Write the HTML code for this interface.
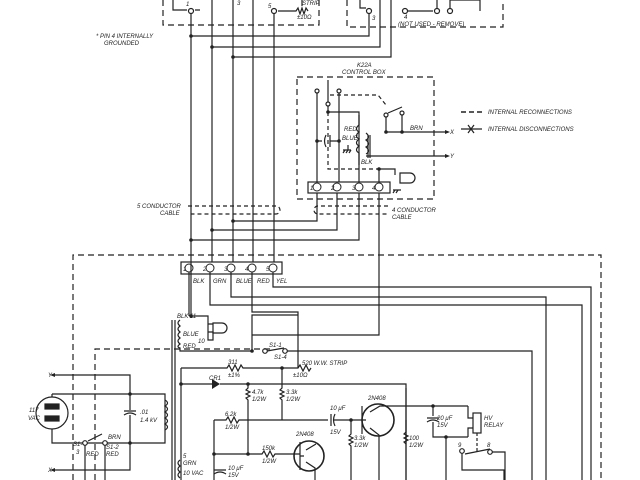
<!DOCTYPE html>
<html><head><meta charset="utf-8"><style>
html,body{margin:0;padding:0;background:#fff;}
svg{display:block;}
text{font-family:"Liberation Sans",sans-serif;font-size:6px;font-style:italic;fill:#222;}
</style></head><body>
<svg width="640" height="480" viewBox="0 0 640 480" xmlns="http://www.w3.org/2000/svg">
<g fill="none" stroke="#222" stroke-width="1.2">
<path d="M163 0V25H319V0" stroke-dasharray="6,4"/>
<path d="M347 0V27H503V0" stroke-dasharray="6,4"/>
<path d="M173 0V10H187M195 10H200"/>
<circle cx="191" cy="11" r="2.5"/><circle cx="274" cy="11" r="2.5"/>
<path d="M278 11H296l2-3 2 6 2-6 2 6 2-6 2 3M302 0V6"/>
<path d="M360 0V8H366"/><circle cx="369" cy="11" r="2.5"/>
<circle cx="405" cy="11" r="2.5"/><circle cx="437" cy="11" r="2.5"/><circle cx="450" cy="11" r="2.5"/>
<path d="M437 8V0M450 8V0H480V11M408 11H433"/>
<path d="M191 14V316M212 0V262M233 0V262M253 0V262M274 14V262"/>
<path d="M191 36H369V14M212 47H380V0M233 57H391V0"/>
<path d="M297 77H434V199H297Z" stroke-dasharray="6,4"/>
<rect x="308" y="182" width="82" height="11"/>
<path d="M317 93V182M339 93V182M359 115V182M379 169V182"/>
<circle cx="317" cy="91" r="2"/><circle cx="339" cy="91" r="2"/><circle cx="328" cy="104" r="2"/>
<path d="M328 80V102M328 106V112H359V125"/>
<path d="M330 95H378l8 10" stroke-dasharray="4,3"/>
<path d="M328 112V169H379" stroke-dasharray="4,3"/>
<path d="M379 169H395V175"/>
<circle cx="386" cy="115" r="2"/><circle cx="402" cy="113" r="2"/>
<path d="M386 117V132H445M402 115V132M388 113l14-6"/>
<path d="M368 135V158M370 135V158"/>
<path d="M366 133q5 4 0 7q5 4 0 7q5 4 0 7M359 125q-5 4 0 7q-5 4 0 7q-5 4 0 7q-5 4 0 7V165"/>
<path d="M366 156H445M317 141H322M326 135q-3 6 0 12M330 135V147M330 141H339"/>
<path d="M348 145V150M343 150h8M343 153l2-3M346 153l2-3M349 153l2-3"/>
<path d="M400 173h10a5 5 0 0 1 0 10h-10Z"/>
<path d="M393 190h8M393 193l2-3M396 193l2-3"/>
<g stroke-width="1">
<circle cx="317" cy="187" r="4"/><circle cx="337" cy="187" r="4"/><circle cx="359" cy="187" r="4"/><circle cx="379" cy="187" r="4"/>
<circle cx="189" cy="268" r="4"/><circle cx="210" cy="268" r="4"/><circle cx="231" cy="268" r="4"/><circle cx="252" cy="268" r="4"/><circle cx="273" cy="268" r="4"/>
</g>
<path d="M188 206H276a4 4 0 0 1 0 8H188" stroke-dasharray="4,3"/>
<path d="M388 206H318a4 4 0 0 0 0 8H388" stroke-dasharray="4,3"/>
<path d="M317 193V221H233M337 193V230H212M359 193V240H191M379 193V335H252"/>
<path d="M461 112H482" stroke-dasharray="5,3" stroke-width="1.6"/>
<path d="M461 129H482M468 125l6 8M474 125l-6 8"/>
<path d="M73 480V255H601V480" stroke-dasharray="6,4"/>
<rect x="181" y="262" width="101" height="12"/>
<path d="M273 272V287H591V480M231 272V297H546V480M210 272V305H582V480M252 272V312H298V368M189 272V316"/>
<path d="M191 316H208V324H213M208 332H213V340H208V324"/>
<path d="M213 323h9a5 5 0 0 1 0 10h-9Z"/>
<path d="M180 320q-4 3 0 6q-4 3 0 6q-4 3 0 6q-4 3 0 6q-4 3 0 4V351H252"/>
<path d="M172 320V480M175 320V480"/>
<circle cx="265" cy="351" r="2.3"/><circle cx="285" cy="351" r="2.3"/>
<path d="M252 351V315H298M267 351l17-3M287 351H532V480"/>
<path d="M95 480V349H272" stroke-dasharray="6,4"/>
<path d="M55 375H130V394M52 394H165V443H52V394M130 443V470H55M130 394V410M124 411h12M124 415q6-4 12 0M130 415V443"/>
<path d="M165 400q5 3 0 6q5 3 0 6q5 3 0 6q5 3 0 6q5 3 0 6"/>
<circle cx="52" cy="413" r="16" fill="#fff"/>
<rect x="45" y="404" width="14" height="5" fill="#222"/><rect x="45" y="416" width="14" height="5" fill="#222"/>
<path d="M85 443V480M105 443V480M88 441l14-7"/>
<circle cx="85" cy="443" r="2.3" fill="#fff"/><circle cx="105" cy="443" r="2.3" fill="#fff"/>
<path d="M181 368V480M181 368H227l2-3 3 6 3-6 3 6 3-6 2 3H298l2-3 3 6 3-6 3 6 2-3"/>
<path d="M181 384H212M220 384H406V480"/>
<path d="M248 384V388l-2 2 4 2-4 2 4 2-4 2 2 2V454M282 368V388l-2 2 4 2-4 2 4 2-4 2 2 2V420"/>
<path d="M214 420H226l2-3 3 6 3-6 3 6 2-3H328M333 420H362M331 414V426M335 414q-3 6 0 12"/>
<path d="M214 420V480M214 454H262l2-3 3 6 3-6 3 6 2-3H300"/>
<path d="M351 420V434l-2 2 4 2-4 2 4 2-4 2 2 2V480M406 420V480"/>
<path d="M406 388V432l-2 2 4 2-4 2 4 2-4 2 2 2"/>
<path d="M362 406V434M362 420H366M370 412L380 406H468M370 428l9 7V480"/>
<path d="M300 442V470M300 456H304M306 450l10-6M306 462l9 6V480"/>
<path d="M433 406V416M427 418h12M427 422q6-4 12 0M433 422V437H468M446 437V480"/>
<path d="M468 406V418H473M468 437V428H473"/>
<rect x="473" y="413" width="8" height="20"/>
<path d="M477 433V451" stroke-dasharray="3,2"/>
<circle cx="462" cy="451" r="2.3"/><circle cx="490" cy="452" r="2.3"/>
<path d="M462 453V470H504V480M465 454l25-5M492 452H505V480"/>
<path d="M214 470h12M214 474q6-4 12 0"/>
<path d="M180 460q-4 3 0 6q-4 3 0 6q-4 3 0 6"/>
<circle cx="378" cy="420" r="16" stroke-width="1.6"/>
<circle cx="309" cy="456" r="15" stroke-width="1.6"/>
</g>
<g fill="#222">
<circle cx="191" cy="36" r="1.8"/><circle cx="212" cy="47" r="1.8"/><circle cx="233" cy="57" r="1.8"/>
<circle cx="233" cy="221" r="1.8"/><circle cx="212" cy="230" r="1.8"/><circle cx="191" cy="240" r="1.8"/><circle cx="191" cy="316" r="1.8"/>
<circle cx="252" cy="351" r="1.8"/><circle cx="282" cy="368" r="1.8"/><circle cx="181" cy="384" r="1.8"/>
<circle cx="248" cy="384" r="1.8"/><circle cx="248" cy="454" r="1.8"/><circle cx="214" cy="454" r="1.8"/>
<circle cx="351" cy="420" r="1.8"/><circle cx="433" cy="406" r="1.8"/><circle cx="446" cy="437" r="1.8"/>
<circle cx="130" cy="394" r="1.8"/><circle cx="130" cy="443" r="1.8"/>
<circle cx="317" cy="141" r="1.8"/><circle cx="339" cy="141" r="1.8"/><circle cx="328" cy="112" r="1.8"/>
<circle cx="386" cy="132" r="1.8"/><circle cx="402" cy="132" r="1.8"/><circle cx="379" cy="169" r="1.8"/>
<path d="M212 379V389L220 384Z"/>
<path d="M445 130l5 2-5 2ZM445 154l5 2-5 2ZM55 373l-5 2 5 2ZM55 468l-5 2 5 2Z"/>
</g>
<text x="302" y="5">STRIP</text><text x="297" y="19">±10Ω</text>
<text x="237" y="5">3</text><text x="186" y="6">1</text><text x="268" y="8">5</text>
<text x="372" y="20">3</text><text x="404" y="19">4</text>
<text x="398" y="26">(NOT USED - REMOVE)</text>
<text x="96" y="38">* PIN 4 INTERNALLY</text><text x="104" y="45">GROUNDED</text>
<text x="357" y="67">K22A</text><text x="342" y="74">CONTROL BOX</text>
<text x="488" y="114">INTERNAL RECONNECTIONS</text>
<text x="488" y="131">INTERNAL DISCONNECTIONS</text>
<text x="344" y="131">RED</text><text x="342" y="140">BLUE</text><text x="361" y="164">BLK</text>
<text x="410" y="130">BRN</text><text x="450" y="134">X</text><text x="450" y="158">Y</text>
<text x="310" y="190">1</text><text x="331" y="190">2</text><text x="352" y="190">3</text><text x="372" y="190">4</text>
<text x="137" y="208">5 CONDUCTOR</text><text x="160" y="215">CABLE</text>
<text x="392" y="212">4 CONDUCTOR</text><text x="392" y="219">CABLE</text>
<text x="183" y="271">1</text><text x="203" y="271">2</text><text x="224" y="271">3</text><text x="245" y="271">4</text><text x="266" y="271">5</text>
<text x="193" y="283">BLK</text><text x="213" y="283">GRN</text><text x="236" y="283">BLUE</text><text x="257" y="283">RED</text><text x="276" y="283">YEL</text>
<text x="177" y="318">BLK</text><text x="190" y="318">11</text><text x="183" y="336">BLUE</text><text x="183" y="348">RED</text><text x="198" y="343">10</text>
<text x="269" y="347">S1-1</text><text x="274" y="359">S1-4</text>
<text x="228" y="364">311</text><text x="228" y="377">±1%</text>
<text x="302" y="365">520 W.W. STRIP</text><text x="293" y="377">±10Ω</text>
<text x="209" y="380">CR1</text>
<text x="252" y="394">4.7k</text><text x="252" y="401">1/2W</text>
<text x="286" y="394">3.3k</text><text x="286" y="401">1/2W</text>
<text x="225" y="416">6.2k</text><text x="225" y="429">1/2W</text>
<text x="330" y="410">10 μF</text><text x="330" y="434">15V</text>
<text x="368" y="400">2N408</text><text x="296" y="436">2N408</text>
<text x="262" y="450">150k</text><text x="262" y="463">1/2W</text>
<text x="354" y="440">3.3k</text><text x="354" y="447">1/2W</text>
<text x="409" y="440">100</text><text x="409" y="447">1/2W</text>
<text x="437" y="420">20 μF</text><text x="437" y="427">15V</text>
<text x="484" y="420">HV</text><text x="484" y="427">RELAY</text>
<text x="458" y="447">9</text><text x="487" y="447">8</text>
<text x="48" y="377">Y</text><text x="48" y="472">X</text>
<text x="29" y="412">117</text><text x="28" y="420">VAC</text>
<text x="140" y="414">.01</text><text x="140" y="422">1.4 kV</text>
<text x="108" y="439">BRN</text><text x="106" y="449">S1-2</text>
<text x="73" y="446">S1-</text><text x="76" y="454">3</text>
<text x="86" y="456">RED</text><text x="106" y="456">RED</text>
<text x="183" y="458">5</text><text x="183" y="465">GRN</text><text x="183" y="475">10 VAC</text>
<text x="228" y="470">10 μF</text><text x="228" y="477">15V</text>
</svg>
</body></html>
